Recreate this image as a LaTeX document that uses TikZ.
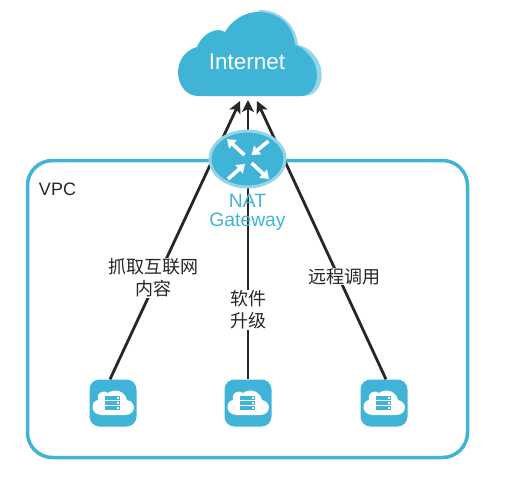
\documentclass[tikz,border=0pt]{standalone}
\usepackage{fontspec}
\setmainfont{Liberation Sans}
\newfontfamily\cjk{Noto Sans CJK SC}
\usetikzlibrary{arrows.meta,shapes.geometric}
\definecolor{vpcblue}{HTML}{40B4D6}
\definecolor{vpclight}{HTML}{94D6E8}
\tikzset{
    hostbox/.style={fill=vpcblue, rounded corners=10pt, minimum width=47pt, minimum height=47pt, inner sep=0pt},
    link/.style={draw=black!85, line width=2.8pt, -{Stealth[length=12pt,width=12pt,inset=3pt]}},
    tag/.style={fill=white, font=\cjk\fontsize{18}{22}\selectfont, text=black!85, align=center, inner sep=0.5pt},
    gwarrow/.style={draw=white, line width=3.6pt, -{Triangle[length=8pt,width=11pt]}}
}
\begin{document}
\begin{tikzpicture}[x=1pt, y=-1pt]
    \useasboundingbox (0,0) rectangle (508,487);

    % VPC frame
    \node[draw=vpcblue, line width=3.5pt, rounded corners=25pt, minimum width=440pt, minimum height=297pt, inner sep=0pt] (vpc) at (247.5,309) {};
    \node[font=\fontsize{18}{22}\selectfont, text=black!85] (vpclabel) at (57.5,189) {VPC};

    % Internet cloud, light edge first
    \fill[vpclight] (206,96) -- (303,96) .. controls (322,96) and (325,74) .. (319,63)
        .. controls (315,53) and (307,47) .. (298,45)
        .. controls (296,25) and (280,10) .. (260,10) -- (240,20) -- (250,90) -- cycle;
    \fill[vpcblue] (198,96) -- (300,96)
        .. controls (318,96) and (323,68) .. (308,54)
        .. controls (304,49) and (299,46) .. (295,45)
        .. controls (293,25) and (279,12) .. (258,12)
        .. controls (245,12) and (232,20) .. (225,32)
        .. controls (218,27) and (203,32) .. (197,47)
        .. controls (186,50) and (178,60) .. (178,72)
        .. controls (178,86) and (187,96) .. (198,96) -- cycle;
    \node[font=\fontsize{22.5}{26}\selectfont, text=white] (internet) at (247,62) {Internet};

    % Server icons
    \foreach \i/\x in {1/113,2/248,3/384} {
        \node[hostbox] (host\i) at (\x,403) {};
        \begin{scope}[shift={(\x,403)}]
            \fill[white] (-11,12) -- (12,12) .. controls (23,12) and (24,-1) .. (14,-3)
                .. controls (12,-12) and (2,-15) .. (-5,-10)
                .. controls (-11,-14) and (-17,-9) .. (-15,-3)
                .. controls (-23,-2) and (-23,12) .. (-11,12) -- cycle;
            \foreach \b in {-5,0,5} {
                \fill[vpcblue] (-8,\b-1.9) rectangle (7,\b+1.9);
                \fill[white] (4,\b-0.6) rectangle (5.5,\b+0.6);
            }
        \end{scope}
    }

    % Arrow ends below the cloud
    \coordinate (tipl) at (240,101);
    \coordinate (tipm) at (248,100);
    \coordinate (tipr) at (257,101);

    % Connectors
    \draw[link] ([xshift=-3pt]host1.north) -- (tipl);
    \draw[link] (host2.north) -- (tipm);
    \draw[link] ([xshift=2pt]host3.north) -- (tipr);

    % Labels on the connectors
    \node[tag] (taskl) at (153,278) {抓取互联网\\内容};
    \node[tag] (taskm) at (248.5,310) {软件\\升级};
    \node[tag] (taskr) at (344.5,276.5) {远程调用};

    % NAT gateway
    \node[ellipse, fill=vpcblue, draw=vpclight, line width=3pt, minimum width=75pt, minimum height=56pt, inner sep=0pt] (gateway) at (247.5,159) {};
    \draw[gwarrow] (244.5,155) -- (227,139);
    \draw[gwarrow] (268.5,141) -- (251.5,155);
    \draw[gwarrow] (228,179) -- (245,164);
    \draw[gwarrow] (251.5,163) -- (269,179);
    \node[font=\fontsize{19.3}{19}\selectfont, text=vpcblue, align=center] (gwlabel) at (247.5,212) {NAT\\Gateway};
\end{tikzpicture}
\end{document}
